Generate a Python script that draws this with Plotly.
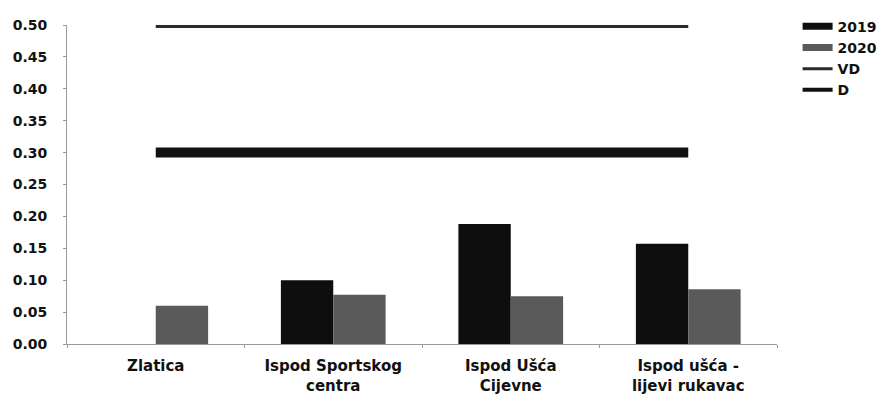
import plotly.graph_objects as go

categories = ["Zlatica", "Ispod Sportskog<br>centra", "Ispod Ušća<br>Cijevne", "Ispod ušća -<br>lijevi rukavac"]
values_2019 = [None, 0.10, 0.188, 0.157]
values_2020 = [0.06, 0.077, 0.075, 0.086]
vd_limit = [0.50, 0.50, 0.50, 0.50]
d_limit = [0.30, 0.30, 0.30, 0.30]
y_ticks = [0.00, 0.05, 0.10, 0.15, 0.20, 0.25, 0.30, 0.35, 0.40, 0.45, 0.50]

FONT = "DejaVu Sans, Arial, sans-serif"
C2019 = "#0e0e0e"
C2020 = "#5a5a5a"
CVD = "#2a2a2a"
CD = "#111111"

fig = go.Figure()
fig.add_trace(go.Bar(x=categories, y=values_2019, name="2019", marker=dict(color=C2019, line=dict(width=0)), showlegend=False))
fig.add_trace(go.Bar(x=categories, y=values_2020, name="2020", marker=dict(color=C2020, line=dict(width=0)), showlegend=False))
fig.add_trace(go.Scatter(x=categories, y=vd_limit, name="VD", mode="lines", line=dict(color=CVD, width=6), showlegend=False))
fig.add_trace(go.Scatter(x=categories, y=d_limit, name="D", mode="lines", line=dict(color=CD, width=10), showlegend=False))

# legend entries
fig.add_trace(go.Scatter(x=[None], y=[None], name="2019", mode="lines", line=dict(color=C2019, width=7)))
fig.add_trace(go.Scatter(x=[None], y=[None], name="2020", mode="lines", line=dict(color=C2020, width=7)))
fig.add_trace(go.Scatter(x=[None], y=[None], name="VD", mode="lines", line=dict(color=CVD, width=3)))
fig.add_trace(go.Scatter(x=[None], y=[None], name="D", mode="lines", line=dict(color=CD, width=4)))

fig.update_layout(
    width=886, height=399,
    margin=dict(l=59, r=117, t=17, b=63, autoexpand=False),
    paper_bgcolor="white", plot_bgcolor="white",
    barmode="group", bargap=0.41, bargroupgap=0,
    font=dict(family=FONT, size=14, color="#111", weight="bold"),
    legend=dict(x=1.029, y=1.045, xanchor="left", yanchor="top",
                font=dict(family=FONT, size=14, color="#111", weight="bold"),
                itemwidth=30, tracegroupgap=0, bgcolor="rgba(0,0,0,0)"),
    xaxis=dict(showline=True, linecolor="#999", linewidth=1, ticks="outside", tickson="boundaries",
               ticklen=3, tickcolor="#999", showgrid=False, ticklabelstandoff=8,
               tickfont=dict(family=FONT, size=15, color="#111", weight="bold")),
    yaxis=dict(range=[0, 0.5], tickvals=y_ticks, tickformat=".2f", showline=True, linecolor="#999",
               linewidth=1, ticks="outside", ticklen=3, tickcolor="#999", showgrid=False, zeroline=False,
               ticklabelstandoff=13,
               tickfont=dict(family=FONT, size=14, color="#111", weight="bold")),
)

fig.write_html("out.html")
